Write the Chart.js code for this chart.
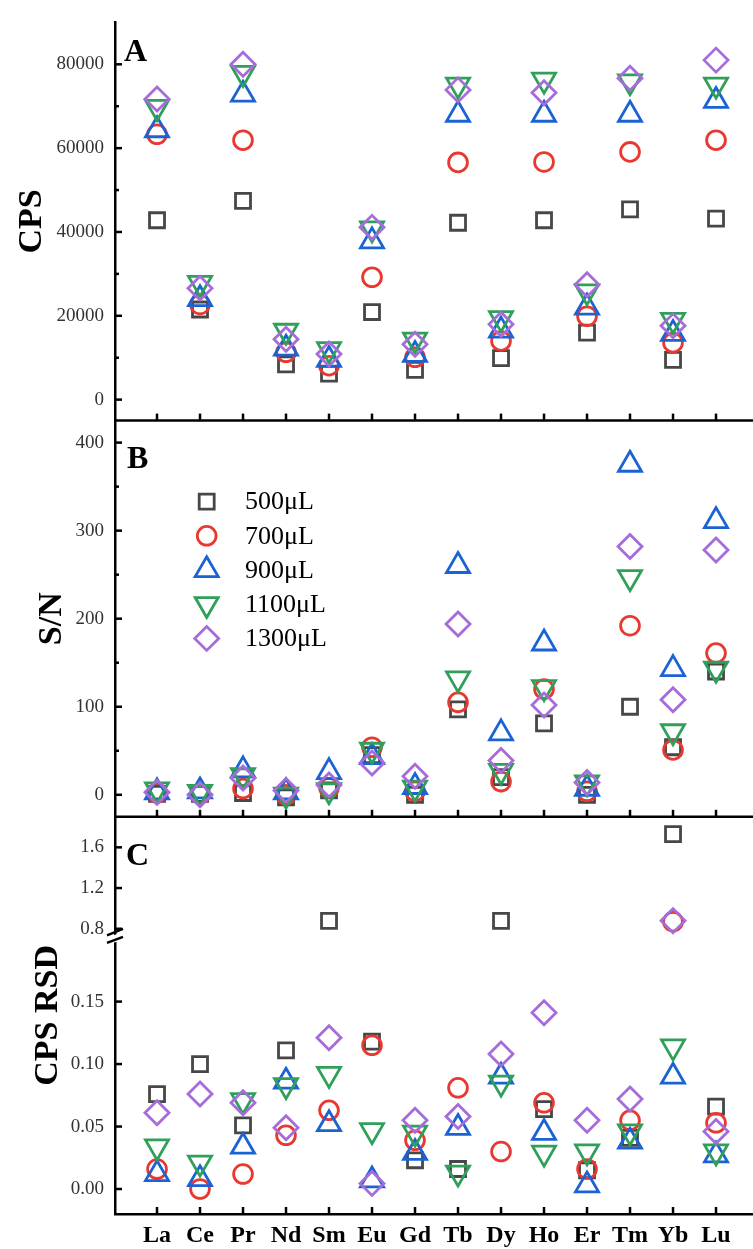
<!DOCTYPE html>
<html>
<head>
<meta charset="utf-8">
<script src="https://cdn.jsdelivr.net/npm/chart.js@4.4.0/dist/chart.umd.min.js"></script>
<style>
	html, body { margin: 0; padding: 0; background: #fff; overflow: hidden; }
	#wrap { position: relative; width: 753px; height: 1249px; }
	#reeChart { display: block; }
</style>
</head>
<body>
<div id="wrap"><canvas id="reeChart"></canvas></div>
<script>
// Categories and series
const categories = ["La", "Ce", "Pr", "Nd", "Sm", "Eu", "Gd", "Tb", "Dy", "Ho", "Er", "Tm", "Yb", "Lu"];
const seriesLabels = ["500μL", "700μL", "900μL", "1100μL", "1300μL"];

// Panel A: CPS
const cps500 = [42800, 21500, 47400, 8400, 6200, 20900, 7100, 42200, 9900, 42800, 16000, 45400, 9500, 43200];
const cps700 = [63300, 22700, 61900, 11300, 8100, 29200, 10100, 56600, 14000, 56700, 19900, 59100, 13600, 61900];
const cps900 = [64300, 24000, 72800, 12200, 9500, 37800, 10700, 68000, 16500, 68000, 22000, 68000, 15700, 71300];
const cps1100 = [69800, 27800, 77900, 16400, 12000, 40800, 14300, 75100, 19400, 76300, 25800, 75900, 19000, 75100];
const cps1300 = [71700, 26600, 80000, 14400, 10900, 41100, 13200, 73900, 18000, 73200, 27400, 76700, 17600, 81000];

// Panel B: S/N
const sn500 = [1, 1, 2, -3, 5, 45, 0, 97, 20, 81, 0, 100, 54, 140];
const sn700 = [2, 1, 7, 0, 8, 54, 4, 105, 15, 120, 4, 192, 51, 161];
const sn900 = [3, 4, 28, 3, 26, 43, 9, 260, 70, 172, 7, 375, 143, 311];
const sn1100 = [6, 3, 22, 0, 5, 51, 8, 132, 27, 122, 14, 247, 72, 143];
const sn1300 = [3, 0, 19, 5, 11, 36, 21, 194, 39, 102, 14, 282, 108, 278];

// Panel C: CPS RSD (values above the break go on the upper segment)
const rsd500 = [0.076, 0.100, 0.051, 0.111, 0.878, 0.118, 0.023, 0.016, 0.878, 0.064, 0.015, 0.041, 1.73, 0.066];
const rsd700 = [0.016, 0.000, 0.012, 0.043, 0.063, 0.115, 0.039, 0.081, 0.030, 0.069, 0.016, 0.055, 0.87, 0.053];
const rsd900 = [0.012, 0.008, 0.034, 0.086, 0.052, 0.007, 0.029, 0.049, 0.090, 0.045, 0.003, 0.038, 0.090, 0.027];
const rsd1100 = [0.034, 0.021, 0.071, 0.083, 0.092, 0.047, 0.045, 0.013, 0.085, 0.029, 0.030, 0.046, 0.114, 0.030];
const rsd1300 = [0.061, 0.076, 0.069, 0.049, 0.121, 0.0045, 0.055, 0.058, 0.108, 0.141, 0.055, 0.072, 0.878, 0.046];
const rsdBreak = 0.5;

// Tick values
const cpsTicks = [0, 20000, 40000, 60000, 80000];
const cpsMinorTicks = [10000, 30000, 50000, 70000];
const snTicks = [0, 100, 200, 300, 400];
const snMinorTicks = [50, 150, 250, 350];
const rsdHighTicks = [0.8, 1.2, 1.6];
const rsdLowTicks = [0, 0.05, 0.1, 0.15];

const FONT = "'Liberation Serif', 'Times New Roman', serif";

const markers = [
	{ pointStyle: "rect", color: "#474747", radius: 10.6, rotation: 0 },
	{ pointStyle: "circle", color: "#e8382f", radius: 9.4, rotation: 0 },
	{ pointStyle: "triangle", color: "#1b63d3", radius: 13.3, rotation: 0 },
	{ pointStyle: "triangle", color: "#2f9f5a", radius: 13.3, rotation: 180 },
	{ pointStyle: "rectRot", color: "#a66cd9", radius: 12, rotation: 0 },
];

const cpsSeries = [cps500, cps700, cps900, cps1100, cps1300];
const snSeries = [sn500, sn700, sn900, sn1100, sn1300];
const rsdSeries = [rsd500, rsd700, rsd900, rsd1100, rsd1300];

function makeDataset(values, s, axisId) {
	const m = markers[s];
	return {
		label: seriesLabels[s],
		yAxisID: axisId,
		order: 4 - s,
		data: values.map((v, i) => ({ x: i, y: v })),
		showLine: false,
		pointStyle: m.pointStyle,
		pointRadius: m.radius,
		pointHoverRadius: m.radius,
		pointRotation: m.rotation,
		pointBorderColor: m.color,
		pointBackgroundColor: "rgba(0,0,0,0)",
		pointBorderWidth: 2.8,
		clip: false,
	};
}

const datasets = [];
for (let s = 0; s < 5; s++) {
	datasets.push(makeDataset(cpsSeries[s], s, "yA"));
	datasets.push(makeDataset(snSeries[s], s, "yB"));
	datasets.push(makeDataset(rsdSeries[s].map((v) => (v >= rsdBreak ? v : null)), s, "yCh"));
	datasets.push(makeDataset(rsdSeries[s].map((v) => (v < rsdBreak ? v : null)), s, "yCl"));
}

function yAxis(min, max, weight, stackWeight, majors, fmt, title, titlePad) {
	return {
		type: "linear",
		position: "left",
		stack: "panels",
		stackWeight: stackWeight,
		weight: weight,
		min: min,
		max: max,
		grid: { display: false, drawTicks: false },
		border: { display: true, color: "#000", width: 2.5 },
		afterBuildTicks: (scale) => {
			scale.ticks = majors.map((v) => ({ value: v }));
		},
		afterFit: (scale) => {
			scale.width = 115;
		},
		ticks: {
			padding: 11,
			color: "#333",
			font: { family: FONT, size: 19 },
			callback: fmt,
		},
		title: title
			? {
					display: true,
					text: title,
					color: "#000",
					font: { family: FONT, size: 34, weight: "bold" },
					padding: { top: titlePad, bottom: 0 },
			  }
			: { display: false },
	};
}

// Ticks, separators, break mark, panel letters and legend
const decorPlugin = {
	id: "decor",
	afterDraw(chart) {
		const ctx = chart.ctx;
		const area = chart.chartArea;
		const sx = chart.scales.x;
		const yA = chart.scales.yA;
		const yB = chart.scales.yB;
		const yCh = chart.scales.yCh;
		const yCl = chart.scales.yCl;

		ctx.save();
		ctx.strokeStyle = "#000";
		ctx.lineWidth = 2.5;

		// panel separators
		[yA.bottom, yB.bottom].forEach((y) => {
			ctx.beginPath();
			ctx.moveTo(area.left, y);
			ctx.lineTo(area.right, y);
			ctx.stroke();
		});

		// inward x ticks on each panel's bottom
		[yA.bottom, yB.bottom, yCl.bottom].forEach((y) => {
			categories.forEach((c, i) => {
				const x = sx.getPixelForValue(i);
				ctx.beginPath();
				ctx.moveTo(x, y);
				ctx.lineTo(x, y - 7);
				ctx.stroke();
			});
		});

		// inward y ticks
		const yTicks = [
			[yA, cpsTicks, 7], [yA, cpsMinorTicks, 4],
			[yB, snTicks, 7], [yB, snMinorTicks, 4],
			[yCh, rsdHighTicks, 7], [yCl, rsdLowTicks, 7],
		];
		yTicks.forEach(([scale, vals, len]) => {
			vals.forEach((v) => {
				const y = scale.getPixelForValue(v);
				ctx.beginPath();
				ctx.moveTo(area.left, y);
				ctx.lineTo(area.left + len, y);
				ctx.stroke();
			});
		});

		// axis break
		const by = yCl.top;
		const bx = area.left;
		ctx.fillStyle = "#fff";
		ctx.beginPath();
		ctx.moveTo(bx - 4, by + 1);
		ctx.lineTo(bx + 4, by - 2);
		ctx.lineTo(bx + 4, by + 6);
		ctx.lineTo(bx - 4, by + 8);
		ctx.closePath();
		ctx.fill();
		ctx.beginPath();
		ctx.moveTo(bx - 8, by);
		ctx.lineTo(bx + 8, by - 6.5);
		ctx.moveTo(bx - 8, by + 7.5);
		ctx.lineTo(bx + 8, by + 1.5);
		ctx.stroke();

		// panel letters
		ctx.fillStyle = "#000";
		ctx.font = "bold 32px " + FONT;
		ctx.textAlign = "left";
		ctx.textBaseline = "alphabetic";
		ctx.fillText("A", area.left + 9, yA.top + 39);
		ctx.fillText("B", area.left + 12, yB.top + 47);
		ctx.fillText("C", area.left + 11, yCh.top + 48);

		// panel C title centred on both segments
		ctx.save();
		ctx.translate(48, (yCh.top + yCl.bottom) / 2);
		ctx.rotate(-Math.PI / 2);
		ctx.textAlign = "center";
		ctx.textBaseline = "middle";
		ctx.font = "bold 34px " + FONT;
		ctx.fillText("CPS RSD", 0, 0);
		ctx.restore();

		// legend
		ctx.font = "26px " + FONT;
		ctx.textBaseline = "middle";
		seriesLabels.forEach((label, s) => {
			const m = markers[s];
			const y = yB.top + 81 + s * 34.2;
			ctx.strokeStyle = m.color;
			ctx.fillStyle = "rgba(0,0,0,0)";
			ctx.lineWidth = 2.8;
			Chart.helpers.drawPoint(ctx, {
				pointStyle: m.pointStyle,
				radius: m.radius,
				rotation: m.rotation,
				borderWidth: 2.8,
			}, 206.7, y);
			ctx.fillStyle = "#000";
			ctx.fillText(label, 245, y + 1);
		});
		ctx.restore();
	},
};

new Chart(document.getElementById("reeChart"), {
	type: "scatter",
	data: { datasets: datasets },
	options: {
		responsive: true,
		maintainAspectRatio: false,
		animation: false,
		events: [],
		layout: { autoPadding: false, padding: { top: 8, left: 0, right: 0, bottom: 0 } },
		plugins: {
			legend: { display: false },
			tooltip: { enabled: false },
		},
		scales: {
			x: {
				type: "linear",
				min: -0.977,
				max: 13.86,
				grid: { display: false, drawTicks: false },
				border: { display: true, color: "#000", width: 2.5 },
				afterBuildTicks: (scale) => {
					scale.ticks = categories.map((c, i) => ({ value: i }));
				},
				afterFit: (scale) => {
					scale.height = 35;
				},
				ticks: {
					autoSkip: false,
					maxRotation: 0,
					padding: 7,
					color: "#000",
					font: { family: FONT, size: 24, weight: "bold" },
					callback: (v) => categories[Math.round(v)],
				},
			},
			yA: yAxis(-5000, 90000, 4, 403, cpsTicks, (v) => String(v), "CPS", 11.6),
			yB: yAxis(-25, 425, 3, 401, snTicks, (v) => String(v), "S/N", 31.6),
			yCh: yAxis(0.735, 1.9, 2, 120, rsdHighTicks, (v) => v.toFixed(1), null, 0),
			yCl: yAxis(-0.02, 0.203, 1, 282, rsdLowTicks, (v) => v.toFixed(2), null, 0),
		},
	},
	plugins: [decorPlugin],
});
</script>
</body>
</html>
